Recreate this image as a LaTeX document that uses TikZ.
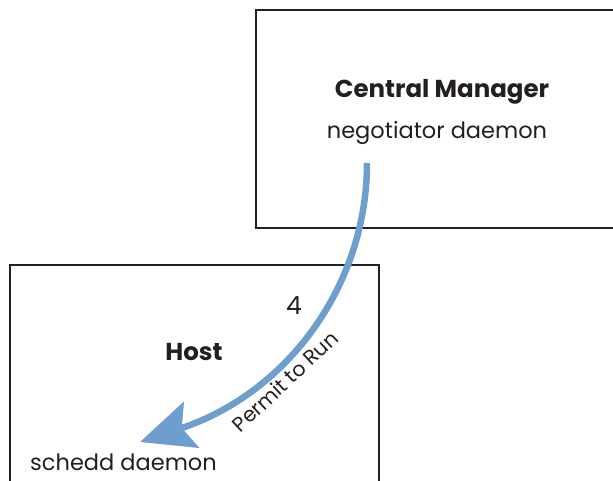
\documentclass[tikz,border=0pt]{standalone}
\usepackage{fontspec}
\setmainfont{Poppins}
\usetikzlibrary{arrows.meta}
\definecolor{flowblue}{RGB}{110,158,204}
\definecolor{ink}{RGB}{35,31,32}
\begin{document}
\begin{tikzpicture}[x=1pt,y=-1pt,
  box/.style={draw=ink,line width=2.3pt,minimum width=369pt,minimum height=218pt,inner sep=0pt},
  title/.style={anchor=base,text=ink,font=\fontsize{24.5}{28}\selectfont\bfseries},
  label/.style={anchor=base,text=ink,font=\fontsize{22.5}{26}\selectfont},
  flow/.style={draw=flowblue,line width=6.5pt,-{Stealth[length=54pt,width=48pt,inset=10pt]}}]
\useasboundingbox (0,0) rectangle (613,480);
\clip (0,0) rectangle (613,480);
\node[box] (cm) at (440.5,119) {};
\node[box] (host) at (194.5,374) {};
\node[title] (cmtitle) at (442,97) {Central Manager};
\node[label] (neg) at (437,138) {negotiator daemon};
\node[title] (hosttitle) at (194,360) {Host};
\node[label] (schedd) at (123.5,470) {schedd daemon};
\node[label,font=\fontsize{25}{28}\selectfont] (num) at (294,314) {4};
\coordinate (start) at (367,163);
\coordinate (tip) at (140,442);
\draw[flow] (start) .. controls (367,283) and (290,392) .. (tip);
\node[label,anchor=center,rotate=43,font=\fontsize{20.5}{24}\selectfont] (permit) at (285,381) {Permit to Run};
\end{tikzpicture}
\end{document}
